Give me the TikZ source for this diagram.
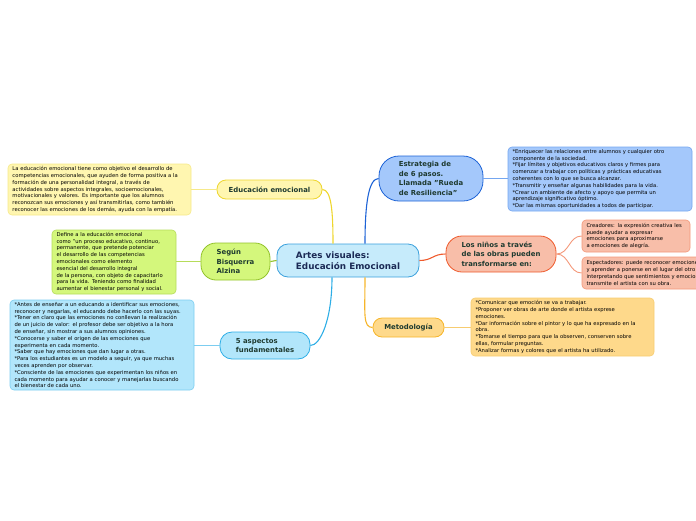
\documentclass[tikz,border=0pt]{standalone}
\usepackage{fontspec}
\setmainfont{DejaVu Sans}
\definecolor{cenF}{HTML}{C6EBFB}\definecolor{cenD}{HTML}{3AA0DC}
\definecolor{eduF}{HTML}{FFF6B0}\definecolor{eduD}{HTML}{EED62E}\definecolor{eduL}{HTML}{F6E98A}
\definecolor{bisF}{HTML}{D4F77C}\definecolor{bisD}{HTML}{92C22A}\definecolor{bisL}{HTML}{B6DC5A}
\definecolor{asp1F}{HTML}{B2E6FB}\definecolor{asp1D}{HTML}{2EAEE6}\definecolor{asp1L}{HTML}{7CCDF0}
\definecolor{estF}{HTML}{A4C8FB}\definecolor{estD}{HTML}{1D63D6}\definecolor{estL}{HTML}{74A6F0}
\definecolor{ninF}{HTML}{F8BEA9}\definecolor{ninD}{HTML}{EF5A2C}\definecolor{ninL}{HTML}{F4987A}
\definecolor{metF}{HTML}{FED98B}\definecolor{metD}{HTML}{F6B52A}\definecolor{metL}{HTML}{F7CC70}
\definecolor{ntext}{HTML}{1E3A30}\definecolor{ctext}{HTML}{1B2A55}
\tikzset{
  mainbox/.style={draw, line width=0.8pt, font=\fontsize{6.9}{9.4}\selectfont\bfseries, text=ntext, align=left, inner sep=0pt},
  leafbox/.style={draw, line width=0.6pt, rounded corners=4pt, font=\fontsize{5.25}{6.8}\selectfont, text=black, align=left, inner xsep=4.5pt, inner ysep=2pt, anchor=center},
  conn/.style={line width=1.1pt},
  leafconn/.style={line width=0.9pt}
}
\begin{document}
\begin{tikzpicture}[x=1pt,y=-1pt]
\useasboundingbox (0,0) rectangle (696,520);
% central
\node[mainbox, fill=cenF, draw=cenD, text=ctext, rounded corners=11pt, minimum width=142pt, minimum height=33pt, font=\fontsize{8.8}{11}\selectfont\bfseries] (cen) at (348,260.5) {Artes visuales:\\Educación Emocional};
% main topics
\node[mainbox, fill=eduF, draw=eduD, rounded corners=9pt, minimum width=105pt, minimum height=19pt] (edu) at (269.5,189.5) {Educación emocional};
\node[mainbox, fill=bisF, draw=bisD, rounded corners=15pt, minimum width=69pt, minimum height=37pt] (bis) at (235.5,261.5) {Según\\Bisquerra\\Alzina};
\node[mainbox, fill=asp1F, draw=asp1D, rounded corners=12pt, minimum width=90pt, minimum height=27pt] (asp) at (265,345.5) {5 aspectos\\fundamentales};
\node[mainbox, fill=estF, draw=estD, rounded corners=20pt, minimum width=104pt, minimum height=45pt] (est) at (431,178.5) {Estrategia de\\de 6 pasos.\\Llamada "Rueda\\de Resiliencia"};
\node[mainbox, fill=ninF, draw=ninD, rounded corners=16pt, minimum width=110pt, minimum height=36pt] (nin) at (501,254) {Los niños a través\\de las obras pueden\\transformarse en:};
\node[mainbox, fill=metF, draw=metD, rounded corners=9pt, minimum width=71pt, minimum height=19pt] (met) at (408.5,327.5) {Metodología};
% leaves
\node[leafbox, fill=eduF, draw=eduL, text width=174pt, minimum height=51pt] (l1) at (99.5,189.5) {La educación emocional tiene como objetivo el desarrollo de\\competencias emocionales, que ayuden de forma positiva a la\\formación de una personalidad integral, a través de\\actividades sobre aspectos integrales, socioemocionales,\\motivacionales y valores. Es importante que los alumnos\\reconozcan sus emociones y así transmitirlas, como también\\reconocer las emociones de los demás, ayuda con la empatía.};
\node[leafbox, fill=bisF, draw=bisL, text width=115pt, minimum height=64pt] (l2) at (114,262) {Define a la educación emocional\\como "un proceso educativo, continuo,\\permanente, que pretende potenciar\\el desarrollo de las competencias\\emocionales como elemento\\esencial del desarrollo integral\\{} de la persona, con objeto de capacitarlo\\para la vida. Teniendo como finalidad\\aumentar el bienestar personal y social.};
\node[leafbox, fill=asp1F, draw=asp1L, text width=175pt, minimum height=90pt] (l3) at (102,345) {*Antes de enseñar a un educando a identificar sus emociones,\\reconocer y negarlas, el educando debe hacerlo con las suyas.\\{}*Tener en claro que las emociones no conllevan la realización\\de un juicio de valor: el profesor debe ser objetivo a la hora\\de enseñar, sin mostrar a sus alumnos opiniones.\\{}*Conocerse y saber el origen de las emociones que\\experimenta en cada momento.\\{}*Saber que hay emociones que dan lugar a otras.\\{}*Para los estudiantes es un modelo a seguir, ya que muchas\\veces aprenden por observar.\\{}*Consciente de las emociones que experimentan los niños en\\cada momento para ayudar a conocer y manejarlas buscando\\el bienestar de cada uno.};
\node[leafbox, fill=estF, draw=estL, text width=175pt, minimum height=64pt] (l4) at (600,179) {*Enriquecer las relaciones entre alumnos y cualquier otro\\componente de la sociedad.\\{}*Fijar límites y objetivos educativos claros y firmes para\\comenzar a trabajar con políticas y prácticas educativas\\coherentes con lo que se busca alcanzar.\\{}*Transmitir y enseñar algunas habilidades para la vida.\\{}*Crear un ambiente de afecto y apoyo que permita un\\aprendizaje significativo óptimo.\\{}*Dar las mismas oportunidades a todos de participar.};
\node[leafbox, fill=ninF, draw=ninL, text width=99pt, minimum height=32pt] (l5) at (636,236) {Creadores: la expresión creativa les\\{} puede ayudar a expresar\\emociones para aproximarse\\a emociones de alegría.};
\node[leafbox, fill=ninF, draw=ninL, text width=131pt, minimum height=32pt] (l6) at (652,273) {Espectadores: puede reconocer emociones\\y aprender a ponerse en el lugar del otro\\interpretando que sentimientos y emociones\\transmite el artista con su obra.};
\node[leafbox, fill=metF, draw=metL, text width=174pt, minimum height=58pt] (l7) at (562.5,327) {*Comunicar que emoción se va a trabajar.\\{}*Proponer ver obras de arte donde el artista exprese\\emociones.\\{}*Dar información sobre el pintor y lo que ha expresado en la\\obra.\\{}*Tomarse el tiempo para que la observen, conserven sobre\\ellas, formular preguntas.\\{}*Analizar formas y colores que el artista ha utilizado.};
% main connectors
\draw[conn, draw=eduD] ([xshift=-15pt]cen.north) .. controls +(0,-32) and +(9,0) .. (edu.east);
\draw[conn, draw=estD] ([xshift=17pt]cen.north) .. controls +(0,-40) and +(-10,0) .. (est.west);
\draw[conn, draw=ninD] (cen.east) .. controls +(13,0) and +(-13,0) .. (nin.west);
\draw[conn, draw=bisD] (cen.west) -- (bis.east);
\draw[conn, draw=asp1D] ([xshift=-16pt]cen.south) .. controls +(0,42) and +(10,0) .. (asp.east);
\draw[conn, draw=metD] ([xshift=17pt]cen.south) .. controls +(0,36) and +(-10,0) .. (met.west);
% leaf connectors
\draw[leafconn, draw=eduL] (edu.west) -- (l1.east |- edu.west);
\draw[leafconn, draw=bisL] (bis.west) -- (l2.east |- bis.west);
\draw[leafconn, draw=asp1L] (asp.west) -- (l3.east |- asp.west);
\draw[leafconn, draw=estL] (est.east) -- (l4.west |- est.east);
\draw[leafconn, draw=ninL] (nin.east) .. controls +(13,0) and +(-13,0) .. (l5.west);
\draw[leafconn, draw=ninL] (nin.east) .. controls +(13,0) and +(-13,0) .. (l6.west);
\draw[leafconn, draw=metL] (met.east) -- (l7.west |- met.east);
\end{tikzpicture}
\end{document}
